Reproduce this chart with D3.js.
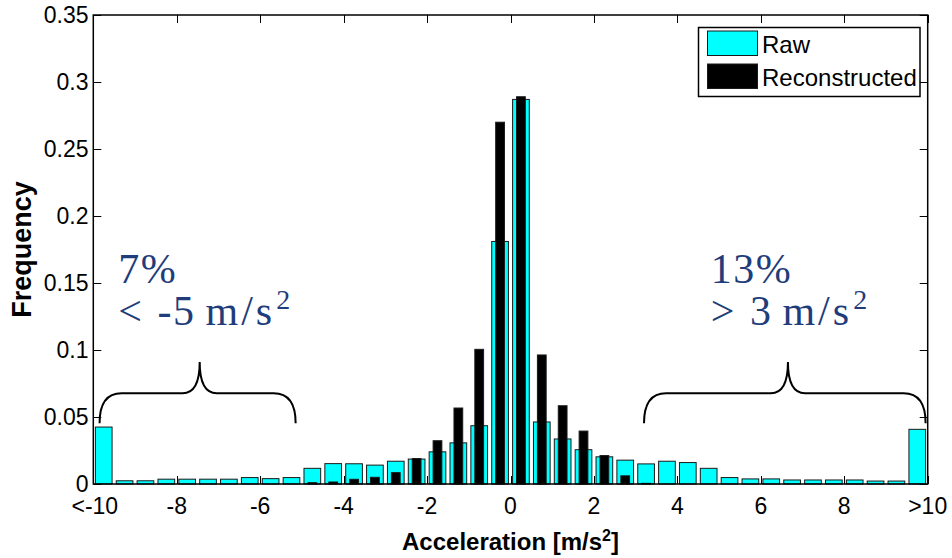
<!DOCTYPE html>
<html>
<head>
<meta charset="utf-8">
<script src="https://cdn.jsdelivr.net/npm/d3@7"></script>
<style>
  html, body { margin: 0; padding: 0; background: #fff; }
  svg { display: block; }
</style>
</head>
<body>
<svg id="chart" width="952" height="558"></svg>
<script>
// Histogram bin centres (0.5 m/s^2 bins); the outer bins collect everything beyond ±10
const binCenters = [
  -9.75, -9.25, -8.75, -8.25, -7.75, -7.25, -6.75, -6.25, -5.75, -5.25,
  -4.75, -4.25, -3.75, -3.25, -2.75, -2.25, -1.75, -1.25, -0.75, -0.25,
   0.25,  0.75,  1.25,  1.75,  2.25,  2.75,  3.25,  3.75,  4.25,  4.75,
   5.25,  5.75,  6.25,  6.75,  7.25,  7.75,  8.25,  8.75,  9.25,  9.75
];

// Relative frequency of raw acceleration samples
const rawFreq = [
  0.0425, 0.0024, 0.0024, 0.0036, 0.0036, 0.0036, 0.0036, 0.0048, 0.0040, 0.0048,
  0.0117, 0.0152, 0.0151, 0.0141, 0.0170, 0.0186, 0.0240, 0.0307, 0.0435, 0.1810,
  0.2870, 0.0463, 0.0336, 0.0256, 0.0203, 0.0178, 0.0150, 0.0170, 0.0160, 0.0117,
  0.0048, 0.0038, 0.0038, 0.0030, 0.0030, 0.0030, 0.0030, 0.0022, 0.0022, 0.0408
];

// Relative frequency of reconstructed acceleration
const reconFreq = [
  0, 0, 0, 0, 0, 0, 0, 0, 0, 0,
  0.0010, 0.0015, 0.0035, 0.0050, 0.0085, 0.0190, 0.0323, 0.0567, 0.1005, 0.2700,
  0.2890, 0.0963, 0.0584, 0.0395, 0.0212, 0.0061, 0.0005, 0, 0, 0,
  0, 0, 0, 0, 0, 0, 0, 0, 0, 0
];

const xTickValues = [-10, -8, -6, -4, -2, 0, 2, 4, 6, 8, 10];
const xTickLabels = ["<-10", "-8", "-6", "-4", "-2", "0", "2", "4", "6", "8", ">10"];
const yTickValues = [0, 0.05, 0.1, 0.15, 0.2, 0.25, 0.3, 0.35];
const yTickLabels = ["0", "0.05", "0.1", "0.15", "0.2", "0.25", "0.3", "0.35"];

const seriesNames = ["Raw", "Reconstructed"];
const seriesColors = ["#00ffff", "#000000"];

// Tail annotations: brace span (x), label lines
const tailNotes = [
  { x0: -9.85, x1: -5.15, xm: -7.45, pct: "7%",  cond: ["<", "-5", "m/s"], textX: -9.4 },
  { x0: 3.2,   x1: 9.95,  xm: 6.65,  pct: "13%", cond: [">", "3", "m/s"],  textX: 4.8 }
];

const svg = d3.select("#chart");
const plot = { left: 93.3, right: 927.7, top: 15, bottom: 484 };

const x = d3.scaleLinear().domain([-10, 10]).range([plot.left, plot.right]);
const y = d3.scaleLinear().domain([0, 0.35]).range([plot.bottom, plot.top]);

const rawWidth = 0.4;    // bar width in x units (80% of bin)
const reconWidth = 0.21; // narrower overlaid bars
const tickLen = 8;

// Inward tick marks on all four sides (drawn under the bars)
const ticks = svg.append("g").attr("stroke", "#000").attr("stroke-width", 1);
xTickValues.forEach(v => {
  const px = Math.round(x(v)) + 0.5;
  ticks.append("line").attr("x1", px).attr("x2", px).attr("y1", plot.bottom).attr("y2", plot.bottom - tickLen);
  ticks.append("line").attr("x1", px).attr("x2", px).attr("y1", plot.top).attr("y2", plot.top + tickLen);
});
yTickValues.forEach(v => {
  const py = Math.round(y(v)) + 0.5;
  ticks.append("line").attr("x1", plot.left).attr("x2", plot.left + tickLen).attr("y1", py).attr("y2", py);
  ticks.append("line").attr("x1", plot.right).attr("x2", plot.right - tickLen).attr("y1", py).attr("y2", py);
});

// Raw bars
svg.append("g").selectAll("rect")
  .data(binCenters.map((c, i) => ({ c, v: rawFreq[i] })))
  .join("rect")
  .attr("x", d => x(d.c - rawWidth / 2))
  .attr("width", d => x(d.c + rawWidth / 2) - x(d.c - rawWidth / 2))
  .attr("y", d => y(d.v))
  .attr("height", d => y(0) - y(d.v))
  .attr("fill", seriesColors[0])
  .attr("stroke", "#1a1a1a")
  .attr("stroke-width", 1);

// Reconstructed bars, overlaid
svg.append("g").selectAll("rect")
  .data(binCenters.map((c, i) => ({ c, v: reconFreq[i] })).filter(d => d.v > 0))
  .join("rect")
  .attr("x", d => x(d.c - reconWidth / 2))
  .attr("width", d => x(d.c + reconWidth / 2) - x(d.c - reconWidth / 2))
  .attr("y", d => y(d.v))
  .attr("height", d => y(0) - y(d.v))
  .attr("fill", seriesColors[1])
  .attr("stroke", "#1a1a1a")
  .attr("stroke-width", 1);

// Axes box
svg.append("rect")
  .attr("x", plot.left).attr("y", plot.top)
  .attr("width", plot.right - plot.left).attr("height", plot.bottom - plot.top)
  .attr("fill", "none").attr("stroke", "#000").attr("stroke-width", 1.5);

// Tick labels
const tickFont = "Liberation Sans, Arial, sans-serif";
svg.append("g").selectAll("text")
  .data(xTickValues)
  .join("text")
  .attr("x", d => x(d) + (d === -10 ? 1.5 : 0))
  .attr("y", 513.5)
  .attr("text-anchor", "middle")
  .attr("font-family", tickFont)
  .attr("font-size", 23)
  .text((d, i) => xTickLabels[i]);

svg.append("g").selectAll("text")
  .data(yTickValues)
  .join("text")
  .attr("x", 88.5)
  .attr("y", d => y(d) + 8.3)
  .attr("text-anchor", "end")
  .attr("font-family", tickFont)
  .attr("font-size", 23)
  .text((d, i) => yTickLabels[i]);

// Axis titles
const xTitle = svg.append("text")
  .attr("x", (plot.left + plot.right) / 2)
  .attr("y", 550)
  .attr("text-anchor", "middle")
  .attr("font-family", tickFont)
  .attr("font-weight", "bold")
  .attr("font-size", 24);
xTitle.append("tspan").text("Acceleration [m/s");
xTitle.append("tspan").attr("dy", -9).attr("font-size", 16).text("2");
xTitle.append("tspan").attr("dy", 9).text("]");

svg.append("text")
  .attr("transform", `translate(30.5,${(plot.top + plot.bottom) / 2}) rotate(-90)`)
  .attr("text-anchor", "middle")
  .attr("font-family", tickFont)
  .attr("font-weight", "bold")
  .attr("font-size", 27)
  .text("Frequency");

// Legend
const legend = svg.append("g");
legend.append("rect")
  .attr("x", 698.5).attr("y", 27.5).attr("width", 221.5).attr("height", 69)
  .attr("fill", "#fff").attr("stroke", "#000").attr("stroke-width", 1.5);
seriesNames.forEach((name, i) => {
  const top = i === 0 ? 31 : 64;
  legend.append("rect")
    .attr("x", 707.5).attr("y", top).attr("width", 50).attr("height", 24.5)
    .attr("fill", seriesColors[i]).attr("stroke", "#1a1a1a").attr("stroke-width", 1);
  legend.append("text")
    .attr("x", 762).attr("y", top + 21.5)
    .attr("font-family", tickFont)
    .attr("font-size", 24)
    .text(name);
});

// Tail braces and annotations
const braceY = { end: 0.0453, flat: 0.0677, tip: 0.091 };
const noteColor = "#1f3d7a";
const noteFont = "Liberation Serif, DejaVu Serif, serif";
tailNotes.forEach(n => {
  const x0 = x(n.x0), x1 = x(n.x1), xm = x(n.xm);
  const yE = y(braceY.end), yF = y(braceY.flat), yT = y(braceY.tip);
  const r = 22, rm = 17;
  const p = d3.path();
  p.moveTo(x0, yE);
  p.quadraticCurveTo(x0, yF, x0 + r, yF);
  p.lineTo(xm - rm, yF);
  p.quadraticCurveTo(xm, yF, xm, yT);
  p.quadraticCurveTo(xm, yF, xm + rm, yF);
  p.lineTo(x1 - r, yF);
  p.quadraticCurveTo(x1, yF, x1, yE);
  svg.append("path")
    .attr("d", p.toString())
    .attr("fill", "none")
    .attr("stroke", "#000")
    .attr("stroke-width", 2);

  const t = svg.append("text")
    .attr("font-family", noteFont)
    .attr("font-size", 42)
    .attr("letter-spacing", 1.5)
    .attr("fill", noteColor);
  t.append("tspan").attr("x", x(n.textX)).attr("y", y(0.15)).text(n.pct);
  // relation sign, number and unit, spaced like a typeset formula
  t.append("tspan").attr("x", x(n.textX)).attr("y", y(0.1187)).text(n.cond[0]);
  t.append("tspan").attr("dx", 14).text(n.cond[1]);
  t.append("tspan").attr("dx", 10).attr("letter-spacing", 3).text(n.cond[2]);
  t.append("tspan").attr("dy", -16).attr("dx", 1).attr("font-size", 28).text("2");
});
</script>
</body>
</html>
